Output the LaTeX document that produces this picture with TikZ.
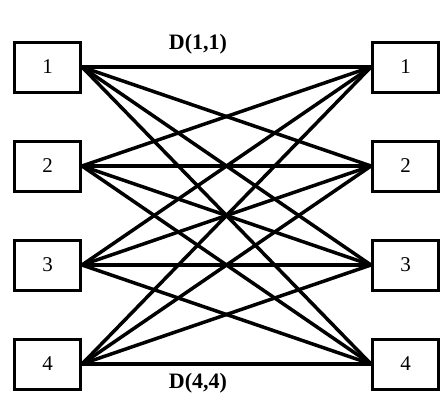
\documentclass[tikz,border=0pt]{standalone}
\usepackage{fontspec}
\setmainfont{Liberation Serif}
\begin{document}
\begin{tikzpicture}[x=1pt,y=-1pt,
  unit/.style={draw=black,line width=3pt,minimum width=66pt,minimum height=50pt,inner sep=0pt,font=\fontsize{21}{21}\selectfont},
  link/.style={line width=3.5pt,line cap=round},
  dlabel/.style={font=\fontsize{22}{22}\selectfont\bfseries,inner sep=0pt}]
\useasboundingbox (0,0) rectangle (441,399);
\fill[white] (0,0) rectangle (441,399);
\foreach \i/\y in {1/67,2/166,3/265,4/364}{
  \node[unit] (L\i) at (47.5,\y) {\i};
  \node[unit] (R\i) at (405.5,\y) {\i};
}
\foreach \i in {1,...,4}{
  \foreach \j in {1,...,4}{
    \draw[link] (L\i.east) -- (R\j.west);
  }
}
\node[dlabel] (d11) at (198,44) {D(1,1)};
\node[dlabel] (d44) at (198,383) {D(4,4)};
\end{tikzpicture}
\end{document}
